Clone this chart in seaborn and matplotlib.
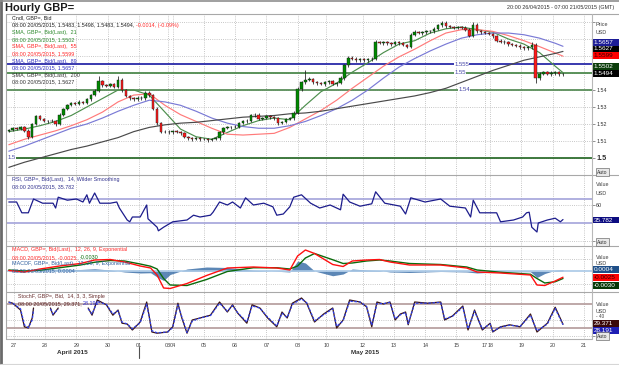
import numpy as np
import pandas as pd
import matplotlib
matplotlib.use("Agg")
import matplotlib.pyplot as plt
import matplotlib.transforms as mtrans
from matplotlib.patches import Rectangle
from matplotlib.lines import Line2D
import seaborn as sns

# ---------------- data ----------------
first_open = 1.5160
candle_step = 3   # each drawn candle = 3 hourly bars
close_3h = [
    1.5165, 1.5175, 1.5170, 1.5180, 1.5160, 1.5125, 1.5200, 1.5245, 1.5230, 1.5220,
    1.5215, 1.5220, 1.5200, 1.5255, 1.5290, 1.5310, 1.5325, 1.5320, 1.5330, 1.5325,
    1.5345, 1.5370, 1.5395, 1.5450, 1.5430, 1.5425, 1.5435, 1.5420, 1.5460, 1.5400,
    1.5365, 1.5350, 1.5345, 1.5355, 1.5350, 1.5385, 1.5370, 1.5290, 1.5205, 1.5155,
    1.5155, 1.5150, 1.5160, 1.5155, 1.5145, 1.5125, 1.5115, 1.5110, 1.5115, 1.5110,
    1.5110, 1.5105, 1.5110, 1.5115, 1.5150, 1.5175, 1.5180, 1.5185, 1.5185, 1.5205,
    1.5215, 1.5220, 1.5250, 1.5255, 1.5230, 1.5235, 1.5245, 1.5240, 1.5235, 1.5205,
    1.5210, 1.5230, 1.5235, 1.5265, 1.5405, 1.5445, 1.5460, 1.5465, 1.5445, 1.5440,
    1.5435, 1.5445, 1.5450, 1.5435, 1.5440, 1.5470, 1.5545, 1.5590, 1.5585, 1.5575,
    1.5580, 1.5575, 1.5580, 1.5585, 1.5680, 1.5675, 1.5680, 1.5675, 1.5670, 1.5680,
    1.5675, 1.5665, 1.5655, 1.5725, 1.5740, 1.5735, 1.5740, 1.5745, 1.5745, 1.5760,
    1.5780, 1.5795, 1.5775, 1.5770, 1.5765, 1.5770, 1.5765, 1.5755, 1.5720, 1.5785,
    1.5745, 1.5740, 1.5735, 1.5730, 1.5715, 1.5690, 1.5685, 1.5680, 1.5670, 1.5665,
    1.5660, 1.5650, 1.5645, 1.5650, 1.5665, 1.5470, 1.5495, 1.5505, 1.5495, 1.5500,
    1.5505, 1.5495, 1.5494,
]
# wick lengths beyond the body, in pips (0.0001)
wick_hi_pips = [
    6, 8, 5, 7, 6, 9, 8, 10, 6, 7,
    5, 8, 6, 9, 7, 8, 6, 7, 9, 6,
    8, 7, 9, 30, 8, 7, 9, 6, 20, 10,
    7, 6, 8, 7, 9, 10, 8, 7, 9, 6,
    7, 8, 6, 7, 5, 8, 6, 7, 6, 8,
    5, 7, 6, 8, 9, 7, 8, 6, 7, 9,
    8, 7, 10, 12, 8, 7, 9, 6, 8, 7,
    6, 8, 7, 9, 12, 10, 60, 9, 8, 7,
    9, 8, 7, 10, 8, 12, 10, 9, 8, 7,
    9, 8, 7, 10, 12, 9, 8, 7, 9, 8,
    7, 9, 8, 12, 10, 8, 7, 9, 8, 10,
    9, 10, 8, 7, 9, 8, 7, 9, 8, 15,
    8, 7, 9, 8, 7, 9, 8, 7, 9, 8,
    7, 9, 8, 7, 15, 10, 9, 8, 7, 9,
    8, 7, 6,
]
wick_lo_pips = [
    7, 6, 8, 5, 9, 12, 6, 8, 7, 9,
    8, 6, 10, 7, 6, 8, 7, 9, 6, 8,
    7, 9, 6, 8, 10, 7, 8, 9, 7, 12,
    9, 8, 7, 9, 8, 6, 9, 10, 8, 7,
    8, 6, 9, 7, 8, 6, 9, 8, 7, 9,
    6, 8, 7, 6, 8, 9, 7, 8, 9, 6,
    7, 9, 8, 6, 9, 8, 7, 9, 10, 8,
    7, 6, 8, 9, 7, 8, 9, 10, 8, 9,
    8, 9, 7, 8, 10, 7, 9, 8, 9, 10,
    8, 9, 10, 8, 9, 7, 8, 10, 9, 8,
    9, 8, 10, 7, 9, 8, 10, 9, 8, 7,
    8, 9, 10, 8, 9, 8, 9, 10, 10, 9,
    9, 10, 8, 9, 8, 9, 10, 8, 9, 8,
    9, 8, 9, 10, 8, 26, 9, 8, 9, 10,
    9, 10, 9,
]

sma_idx = [0, 12, 24, 36, 48, 60, 72, 84, 96, 108, 120, 132, 144, 156, 168, 180, 192,
           204, 216, 228, 240, 252, 264, 276, 288, 300, 312, 324, 336, 348, 360, 372,
           384, 396, 408, 420, 426]
sma21 = [1.5155, 1.5170, 1.5190, 1.5215, 1.5250, 1.5300, 1.5350, 1.5400, 1.5400, 1.5370,
         1.5270, 1.5170, 1.5125, 1.5110, 1.5150, 1.5190, 1.5220, 1.5235, 1.5225, 1.5310,
         1.5390, 1.5440, 1.5505, 1.5560, 1.5620, 1.5670, 1.5690, 1.5735, 1.5760, 1.5770,
         1.5755, 1.5740, 1.5700, 1.5670, 1.5620, 1.5540, 1.5502]
sma55 = [1.5078, 1.5110, 1.5135, 1.5160, 1.5190, 1.5225, 1.5270, 1.5330, 1.5370, 1.5378,
         1.5310, 1.5255, 1.5215, 1.5175, 1.5140, 1.5135, 1.5140, 1.5145, 1.5180, 1.5230,
         1.5280, 1.5340, 1.5410, 1.5475, 1.5540, 1.5595, 1.5640, 1.5690, 1.5735, 1.5755,
         1.5755, 1.5745, 1.5720, 1.5690, 1.5655, 1.5618, 1.5599]
sma89 = [1.5040, 1.5070, 1.5105, 1.5140, 1.5175, 1.5200, 1.5235, 1.5275, 1.5310, 1.5340,
         1.5330, 1.5310, 1.5275, 1.5235, 1.5205, 1.5185, 1.5175, 1.5175, 1.5190, 1.5215,
         1.5250, 1.5290, 1.5340, 1.5400, 1.5470, 1.5535, 1.5585, 1.5630, 1.5670, 1.5705,
         1.5725, 1.5735, 1.5735, 1.5725, 1.5705, 1.5675, 1.5657]
sma200 = [1.4945, 1.4975, 1.5000, 1.5025, 1.5050, 1.5070, 1.5095, 1.5120, 1.5155, 1.5180,
          1.5195, 1.5205, 1.5210, 1.5220, 1.5230, 1.5240, 1.5245, 1.5250, 1.5260, 1.5265,
          1.5275, 1.5290, 1.5305, 1.5320, 1.5335, 1.5350, 1.5365, 1.5385, 1.5410, 1.5445,
          1.5480, 1.5515, 1.5545, 1.5575, 1.5595, 1.5615, 1.5627]

level_blue = 1.555
level_green = [1.55, 1.54, 1.50]
level_labels = ["1.555", "1.55", "1.54", "1.5"]

rsi_idx = [0, 6, 10, 15, 19, 26, 34, 36, 38, 45, 52, 57, 60, 62, 66, 70, 78, 83, 85, 91,
           93, 95, 101, 106, 107, 114, 115, 119, 126, 137, 142, 147, 155, 157, 162, 168,
           172, 178, 182, 188, 196, 203, 206, 211, 216, 219, 225, 232, 239, 247, 255, 257,
           262, 270, 279, 282, 289, 301, 305, 309, 320, 332, 339, 351, 355, 357, 362, 375,
           378, 388, 395, 398, 400, 402, 406, 407, 414, 420, 424, 426]
rsi_val = [65, 65, 47, 47, 70, 63, 63, 55, 73, 68, 70, 65, 77, 63, 80, 63, 63, 65, 55, 35,
           32, 40, 40, 60, 37, 23, 17, 23, 32, 35, 43, 40, 43, 48, 65, 60, 65, 55, 72, 60,
           63, 57, 43, 45, 57, 73, 77, 63, 55, 60, 52, 78, 65, 58, 62, 82, 63, 58, 45, 72,
           65, 70, 58, 55, 40, 68, 47, 47, 32, 35, 40, 47, 48, 23, 15, 30, 35, 38, 32, 35.782]
rsi_levels = [70, 30]

macd_idx = [0, 12, 24, 39, 55, 66, 78, 89, 101, 109, 114, 119, 124, 137, 152, 168, 188,
            206, 216, 222, 228, 235, 249, 257, 264, 275, 285, 293, 308, 332, 352, 360, 378,
            401, 406, 412, 420, 426]
macd_line = [0.0002, -0.0004, 0.0008, 0.0020, 0.0030, 0.0044, 0.0046, 0.0036, 0.0020, 0.0012,
             -0.0016, -0.0068, -0.0070, -0.0050, -0.0018, 0.0012, 0.0016, 0.0012, 0.0004, 0.0060,
             0.0084, 0.0070, 0.0026, 0.0018, 0.0040, 0.0044, 0.0046, 0.0036, 0.0024, 0.0024,
             0.0012, -0.0004, -0.0008, -0.0016, -0.0056, -0.0058, -0.0040, -0.0025]
macd_signal = [0.0004, 0.0000, 0.0003, 0.0013, 0.0024, 0.0035, 0.0042, 0.0040, 0.0028, 0.0019,
               0.0008, -0.0030, -0.0056, -0.0058, -0.0034, -0.0002, 0.0013, 0.0013, 0.0008, 0.0020,
               0.0052, 0.0070, 0.0045, 0.0030, 0.0032, 0.0040, 0.0044, 0.0040, 0.0030, 0.0026,
               0.0016, 0.0004, -0.0005, -0.0013, -0.0030, -0.0048, -0.0043, -0.0030]

nan = float("nan")
stoch_idx = [0, 3, 9, 12, 15, 18, 19, 25, 32, 34, 38, 50, 61, 64, 68, 75, 80, 84, 87, 91,
             95, 101, 106, 110, 114, 122, 126, 130, 133, 137, 141, 147, 155, 162, 168, 172,
             176, 183, 187, 193, 199, 206, 210, 214, 218, 225, 229, 235, 242, 249, 252, 257,
             262, 270, 275, 279, 283, 288, 293, 297, 301, 305, 307, 312, 322, 332, 335, 341,
             349, 353, 358, 364, 370, 372, 378, 385, 393, 401, 406, 414, 420, 426]
stoch_k = [85, 82, 65, 23, 20, 45, 70, nan, 70, 52, 70, nan, 70, 52, 90, 78, 52, 65, 32, 30,
           15, 35, 85, 10, 7, 10, 23, 82, 45, 7, 40, 45, 52, 85, 60, 78, 57, 32, 78, 70,
           45, 23, 60, 45, 82, 95, 82, 35, 55, 70, 20, 40, 90, 85, 73, 23, 85, 80, 85, 40,
           55, 60, 28, 85, 82, 85, 40, 50, 75, 15, 65, 15, 32, 10, 23, 28, 23, 55, 10, 32,
           72, 29.371]
stoch_d = [84, 82, 68, 28, 21, 40, 66, nan, 68, 55, 67, nan, 68, 55, 86, 79, 55, 63, 35, 30,
           18, 33, 80, 13, 8, 10, 21, 78, 48, 9, 37, 45, 51, 82, 62, 76, 58, 35, 75, 70,
           47, 25, 57, 46, 79, 93, 83, 38, 53, 68, 24, 38, 87, 85, 74, 27, 81, 81, 84, 43,
           53, 59, 31, 82, 82, 84, 43, 49, 72, 18, 62, 18, 30, 12, 22, 27, 24, 52, 13, 30,
           69, 28.191]
stoch_levels = [80, 20]

day_tick_idx = [4, 28, 52, 76, 100, 122, 126, 150, 174, 198, 222, 244, 272, 296, 320, 344,
                366, 370, 394, 418, 442]
day_labels = ["27", "28", "29", "30", "01", "03", "04", "05", "06", "07", "08", "10", "12",
              "13", "14", "15", "17", "18", "19", "20", "21"]
month_labels = ["April 2015", "May 2015"]
month_label_idx = [49, 274]
month_break_idx = 100

# ---------------- styling ----------------
sns.set_theme(style="white")
plt.rcParams['font.family'] = ['Liberation Sans', 'DejaVu Sans']

W, H = 619, 365
fig = plt.figure(figsize=(W / 100, H / 100), dpi=100)
fig.patch.set_facecolor("white")

PX_L, PX_R = 6, 592
XLIM = (-2.15, 448.3)


def axes_at(top, bottom):
    return fig.add_axes([PX_L / W, 1 - bottom / H, (PX_R - PX_L) / W, (bottom - top) / H])


ax_p = axes_at(14, 175)
ax_r = axes_at(175, 246)
ax_m = axes_at(246, 292)
ax_s = axes_at(292, 339)

GRID = dict(linestyle=(0, (1, 1.6)), color="#b5b5b5", linewidth=0.6)
FS = 3.9

for ax in (ax_p, ax_r, ax_m, ax_s):
    ax.set_facecolor("white")
    for sp in ax.spines.values():
        sp.set_visible(False)
    ax.set_xticks(day_tick_idx)
    ax.grid(True, **GRID)
    ax.set_axisbelow(True)
    ax.yaxis.tick_right()
    ax.tick_params(axis="x", length=0, labelbottom=False)
    ax.tick_params(axis="y", direction="out", length=2, width=0.6, color="#808080",
                   pad=1, labelsize=FS, labelcolor="#303030")

# ---------------- price panel ----------------
closes = np.array(close_3h)
opens = np.concatenate([[first_open], closes[:-1]])
highs = np.maximum(opens, closes) + np.array(wick_hi_pips) / 10000.0
lows = np.minimum(opens, closes) - np.array(wick_lo_pips) / 10000.0
cx = np.arange(len(closes)) * candle_step
up = closes >= opens
body_col = np.where(up, "#008a00", "#ff1a1a")
ax_p.vlines(cx, lows, highs, color="#1a1a1a", linewidth=0.55, zorder=3)
ax_p.bar(cx, closes - opens, bottom=opens, width=1.9, color=body_col,
         edgecolor="#1a1a1a", linewidth=0.3, zorder=3.5)

sma_df = pd.DataFrame({"idx": sma_idx, "21": sma21, "55": sma55, "89": sma89, "200": sma200})
sma_long = sma_df.melt(id_vars="idx", var_name="period", value_name="value")
sma_pal = {"21": "#4d8f4d", "55": "#ff7a7a", "89": "#7a7ad6", "200": "#4a4a4a"}
sns.lineplot(data=sma_long, x="idx", y="value", hue="period", palette=sma_pal,
             estimator=None, sort=False, linewidth=0.85, legend=False, ax=ax_p, zorder=2.8)

ax_p.axhline(level_blue, color="#2a2aa8", linewidth=1.3, zorder=2)
green_cols = ["#4e8a4e", "#5a8f5a", "#2f6e2f"]
for lv, c in zip(level_green, green_cols):
    ax_p.axhline(lv, color=c, linewidth=1.3, zorder=2)

lab_kw = dict(ha="center", va="center", fontsize=4.3, color="#4848a8", zorder=5,
              bbox=dict(fc="white", ec="none", pad=0.2))
ax_p.text(348, level_blue, level_labels[0], **lab_kw)
ax_p.text(347, level_green[0], level_labels[1], **lab_kw)
ax_p.text(350, level_green[1], level_labels[2], **lab_kw)
ax_p.text(2, level_green[2], level_labels[3], **lab_kw)

ax_p.set_yticks([1.50, 1.51, 1.52, 1.53, 1.54, 1.55, 1.56, 1.57, 1.58])
ax_p.set_yticklabels(["1.5", "1.51", "1.52", "1.53", "1.54", "", "", "", ""])
lbl = ax_p.get_yticklabels()[0]
lbl.set_fontweight("bold")
lbl.set_fontsize(5.2)
ax_p.set_ylim(1.49, 1.5847)

# ---------------- RSI ----------------
sns.lineplot(x=rsi_idx, y=rsi_val, color="#1c1c8c", linewidth=0.9, estimator=None,
             sort=False, ax=ax_r, zorder=4)
for lv in rsi_levels:
    ax_r.axhline(lv, color="#a3a3da", linewidth=1.2, zorder=2)
ax_r.set_yticks([0, 60])
ax_r.set_yticklabels(["", "60"])
ax_r.set_ylim(-8.33, 110)

# ---------------- MACD ----------------
mi = np.array(macd_idx)
ml = np.array(macd_line)
ms = np.array(macd_signal)
ax_m.fill_between(mi, 0, ml - ms, color="#3f72aa", alpha=0.85, linewidth=0, zorder=2)
ax_m.axhline(0, color="#a9c8e6", linewidth=1.2, zorder=2.5)
sns.lineplot(x=macd_idx, y=macd_signal, color="#0b6b0b", linewidth=1.0, estimator=None,
             sort=False, ax=ax_m, zorder=4)
sns.lineplot(x=macd_idx, y=macd_line, color="#ff1010", linewidth=1.0, estimator=None,
             sort=False, ax=ax_m, zorder=4)
ax_m.set_yticks([-0.005, 0.005])
ax_m.set_yticklabels(["", ""])
ax_m.tick_params(axis="y", length=0)
ax_m.set_ylim(-0.0084, 0.0100)

# ---------------- Stochastic ----------------
st = pd.DataFrame({"idx": stoch_idx, "k": stoch_k, "d": stoch_d})
st["seg"] = st["k"].isna().cumsum()
st = st.dropna()
for lv in stoch_levels:
    ax_s.axhline(lv, color="#b39a9a", linewidth=1.2, zorder=2)
sns.lineplot(data=st, x="idx", y="k", units="seg", estimator=None, sort=False,
             color="#3a1414", linewidth=0.9, ax=ax_s, zorder=4)
sns.lineplot(data=st, x="idx", y="d", units="seg", estimator=None, sort=False,
             color="#2f3fe8", linewidth=0.9, linestyle=(0, (2, 1.3)), ax=ax_s, zorder=5)
ax_s.set_yticks([0, 40])
ax_s.set_yticklabels(["", ""])
ax_s.set_ylim(-7.5, 110)
ax_s.set_xticklabels(day_labels)
ax_s.tick_params(axis="x", labelbottom=True, length=0, pad=2.6, labelsize=FS,
                 labelcolor="#404040")

for ax in (ax_p, ax_r, ax_m, ax_s):
    ax.set_xlim(*XLIM)
    ax.set_xlabel("")
    ax.set_ylabel("")

# month labels under the axis
trans = mtrans.blended_transform_factory(ax_s.transData, fig.transFigure)
for lab, xi in zip(month_labels, month_label_idx):
    ax_s.text(xi, 1 - 352.5 / H, lab, transform=trans, ha="center", va="center",
              fontsize=4.6, fontweight="bold", color="#303030", clip_on=False)
ax_s.add_line(Line2D([month_break_idx, month_break_idx], [1 - 347 / H, 1 - 358 / H],
                     transform=trans, color="#505050", linewidth=0.8, clip_on=False))

# ---------------- frame lines ----------------
def fline(x0, y0, x1, y1, color, lw):
    fig.add_artist(Line2D([x0 / W, x1 / W], [1 - y0 / H, 1 - y1 / H], color=color,
                          linewidth=lw, transform=fig.transFigure))


for yy in (14, 175, 246, 292):
    fline(PX_L, yy, W, yy, "#a8a8a8", 0.8)
fline(PX_L, 339, PX_R, 339, "#b0b0b0", 0.8)
fline(PX_L, 14, PX_L, 339, "#a8a8a8", 0.8)
fline(PX_R, 14, PX_R, 339, "#b8b8b8", 0.8)
fline(1, 0, 1, H, "#6a6a6a", 2.0)
fline(0, 0.6, W, 0.6, "#8f8f8f", 1.2)
fline(0, 363.5, W, 363.5, "#d6d6d6", 0.8)

# ---------------- texts ----------------
def ftext(px, py, s, **kw):
    kw.setdefault("fontsize", FS)
    kw.setdefault("va", "center")
    kw.setdefault("ha", "left")
    return fig.text(px / W, 1 - py / H, s, **kw)


renderer = fig.canvas.get_renderer()


def ftext_multi(px, py, parts, **kw):
    x = px
    for s, c in parts:
        t = ftext(x, py, s, color=c, **kw)
        bb = t.get_window_extent(renderer=renderer)
        x = bb.x1 + 1.5


ftext(5, 8, "Hourly GBP=", fontsize=8, fontweight="bold", color="#1a1a1a")
ftext(614, 8, "20:00 26/04/2015 - 07:00 21/05/2015 (GMT)", ha="right", color="#303030")

C_DARK, C_G, C_R, C_B = "#202020", "#2d8a2d", "#ff2a2a", "#3030c0"
ftext(12.5, 17.3, "Cndl, GBP=, Bid", color=C_DARK)
ftext_multi(12.5, 25, [("08:00 20/05/2015, 1.5483, 1.5498, 1.5483, 1.5494,", C_DARK),
                       ("-0.0014, (-0.09%)", C_R)])
ftext(12.5, 32.3, "SMA, GBP=, Bid(Last),  21", color=C_G)
ftext(12.5, 39.3, "08:00 20/05/2015, 1.5502", color=C_G)
ftext(12.5, 46.7, "SMA, GBP=, Bid(Last),  55", color=C_R)
ftext(12.5, 53.3, "08:00 20/05/2015, 1.5599", color=C_R)
ftext(12.5, 61, "SMA, GBP=, Bid(Last),  89", color=C_B)
ftext(12.5, 67.7, "08:00 20/05/2015, 1.5657", color=C_B)
ftext(12.5, 75, "SMA, GBP=, Bid(Last),  200", color="#333333")
ftext(12.5, 81.7, "08:00 20/05/2015, 1.5627", color="#333333")

ftext(12, 179.3, "RSI, GBP=, Bid(Last),  14, Wilder Smoothing", color="#34348f")
ftext(12, 186.7, "08:00 20/05/2015, 35.782", color="#34348f")

ftext(12, 250, "MACD, GBP=, Bid(Last),  12, 26, 9, Exponential", color=C_R)
ftext_multi(12, 257.3, [("08:00 20/05/2015, -0.0025,", C_R), ("-0.0030", "#0b6b0b")])
ftext(12, 264, "MACDF, GBP=, Bid(Last),  12, 26, 9, Exponential", color="#2f5f9f")
ftext(12, 271, "08:00 20/05/2015, 0.0004", color="#2f5f9f")

ftext(18, 296.7, "StochF, GBP=, Bid,  14, 3, 3, Simple", color="#6a3030")
ftext_multi(18, 303.3, [("08:00 20/05/2015, 29.371,", "#5a2020"), ("28.191", "#3030d0")])

# right-hand scale captions
for (py, s) in [(24, "Price"), (33, "USD"), (185, "Value"), (193, "USD"),
                (257.5, "Value"), (263.3, "USD"), (305, "Value"), (311.5, "USD")]:
    ftext(596, py, s, color="#404040")
ftext(596, 316.8, "- 40", color="#404040", fontsize=3.4)

# value boxes
def fbox(py, fc, s, tc):
    h = 6.6
    fig.add_artist(Rectangle((592 / W, 1 - (py + h / 2) / H), 26.5 / W, h / H,
                             transform=fig.transFigure, fc=fc, ec="none", zorder=1))
    ftext(593.5, py, s, color=tc, fontsize=4.6, zorder=3)


fbox(42.5, "#1c1c96", "1.5657", "white")
fbox(49, "#000000", "1.5627", "white")
fbox(55.3, "#ff0000", "1.5599", "#3a0000")
fbox(66.7, "#0a3d0a", "1.5502", "white")
fbox(73.3, "#000000", "1.5494", "white")
fbox(220, "#0c0c80", "35.782", "white")
fbox(269.3, "#1f4f88", "0.0004", "white")
fbox(277.7, "#ff0000", "-0.0025", "#3a0000")
fbox(285.7, "#063806", "-0.0030", "white")
fbox(323.3, "#3a0808", "29.371", "white")
fbox(330.3, "#1e1eb4", "28.191", "white")

for py in (172, 242, 336):
    ftext(597, py, "Auto", fontsize=3.6, color="#303030",
          bbox=dict(boxstyle="square,pad=0.25", fc="#e8e8e8", ec="#707070", lw=0.5))

fig.savefig("out.png", dpi=100, facecolor="white")
